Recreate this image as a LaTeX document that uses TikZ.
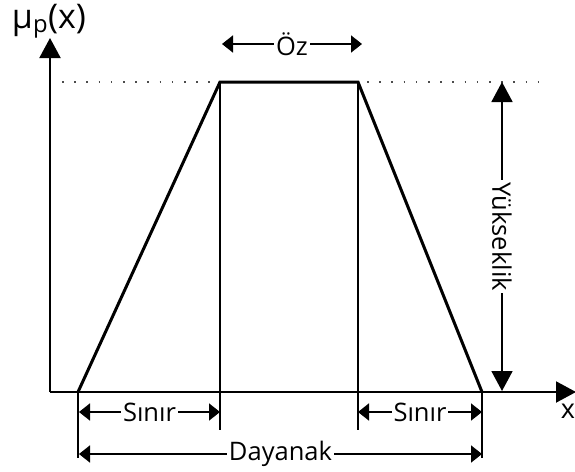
\documentclass[tikz,border=0pt]{standalone}
\usepackage{fontspec}
\setmainfont{Open Sans}
\usetikzlibrary{arrows.meta}
\tikzset{
  axis/.style ={line width=2pt, -{Triangle[length=20pt, width=21pt]}},
  trap/.style ={line width=3pt, line join=miter},
  guide/.style={line width=1.6pt},
  dim/.style  ={line width=1.8pt, {Triangle[length=11pt, width=17pt]}-{Triangle[length=11pt, width=17pt]}},
  tall/.style ={line width=1.8pt, {Triangle[length=20pt, width=21pt]}-{Triangle[length=20pt, width=21pt]}},
  lbl/.style  ={fill=white, inner sep=2pt, font=\fontsize{25.5}{28}\selectfont}
}

\begin{document}
\begin{tikzpicture}[x=1pt, y=-1pt]
    \useasboundingbox (0,0) rectangle (575,471);
    % corners of the trapezoid
    \coordinate (bl) at (78,392);
    \coordinate (tl) at (220,82);
    \coordinate (tr) at (358,82);
    \coordinate (br) at (482,392);
    \coordinate (o) at (50,392);
    % axes
    \draw[axis] (o) -- (50,38) coordinate (ytip);
    \draw[axis] (o) -- (576,392) coordinate (xtip);
    \node[font=\fontsize{34}{36}\selectfont, inner sep=0pt] (ylab) at (49,21) {μ\textsubscript{p}(x)};
    \node[font=\fontsize{27}{30}\selectfont, inner sep=0pt] (xlab) at (568,411) {x};
    % height level
    \draw[line width=1.6pt, gray!60!black, dash pattern=on 1.6pt off 10.6pt] (62,82) -- (548,82);
    % helper lines
    \draw[guide] (tl) -- (220,430);
    \draw[guide] (tr) -- (358,430);
    \draw[guide] (bl) -- (78,458);
    \draw[guide] (br) -- (482,458);
    % membership function
    \draw[trap] (bl) -- (tl) -- (tr) -- (br);
    % dimensions
    \draw[dim] (222,44) -- node[lbl] (core) {Öz} (362,44);
    \draw[dim] (79,412) -- node[lbl] (lsin) {Sınır} (220,412);
    \draw[dim] (358,412) -- node[lbl] (rsin) {Sınır} (482,412);
    \draw[dim] (79,454) -- node[lbl] (supp) {Dayanak} (482,454);
    \draw[tall] (502,82) -- node[lbl, rotate=-90] (height) {Yükseklik} (502,391);
\end{tikzpicture}
\end{document}
